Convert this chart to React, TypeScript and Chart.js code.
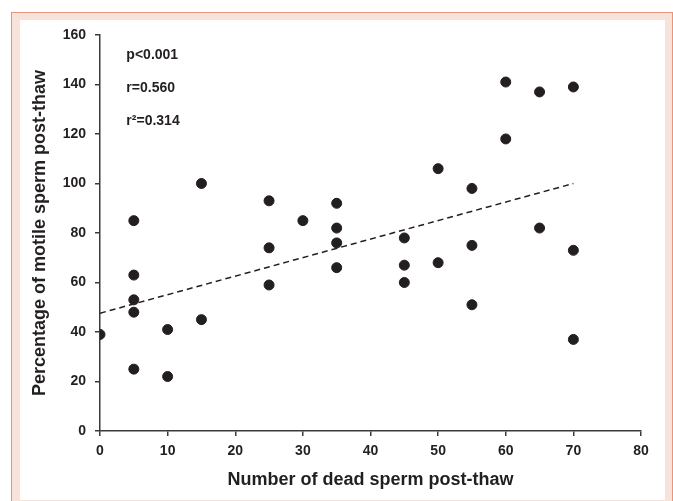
import React, { useEffect, useRef } from "react";
import { Chart, registerables } from "chart.js";

Chart.register(...registerables);

const deadSperm = [0, 5, 5, 5, 5, 5, 10, 10, 15, 15, 25, 25, 25, 30, 35, 35, 35, 35, 45, 45, 45, 50, 50, 55, 55, 55, 60, 60, 65, 65, 70, 70, 70];
const motileSperm = [39, 85, 63, 53, 48, 25, 41, 22, 100, 45, 93, 74, 59, 85, 92, 82, 76, 66, 78, 67, 60, 106, 68, 98, 75, 51, 141, 118, 137, 82, 139, 73, 37];
const trendX = [0, 70];
const trendY = [47.6, 100];
const statsLabels = ["p<0.001", "r=0.560", "r\u00B2=0.314"];
const statsY = [152, 138.6, 125.2];
const xTitle = "Number of dead sperm post-thaw";
const yTitle = "Percentage of motile sperm post-thaw";

const FONT = "'Liberation Sans', Arial, Helvetica, sans-serif";
const INK = "#231F20";
const AXIS = "#3a3a3a";

export default function App() {
  const ref = useRef<HTMLCanvasElement | null>(null);

  useEffect(() => {
    if (!ref.current) return;
    const statsPlugin = {
      id: "stats",
      afterDraw(chart: any) {
        const ctx = chart.ctx;
        const xs = chart.scales.x;
        const ys = chart.scales.y;
        ctx.save();
        ctx.fillStyle = INK;
        ctx.font = `bold 14px ${FONT}`;
        ctx.textAlign = "left";
        ctx.textBaseline = "middle";
        statsLabels.forEach((t, i) => {
          ctx.fillText(t, xs.getPixelForValue(3.9), ys.getPixelForValue(statsY[i]));
        });
        ctx.restore();
      },
    };

    const chart = new Chart(ref.current, {
      type: "scatter",
      data: {
        datasets: [
          {
            type: "line",
            data: trendX.map((x, i) => ({ x, y: trendY[i] })),
            borderColor: INK,
            borderWidth: 1.5,
            borderDash: [6, 4],
            pointRadius: 0,
            fill: false,
          } as any,
          {
            data: deadSperm.map((x, i) => ({ x, y: motileSperm[i] })),
            backgroundColor: INK,
            borderColor: INK,
            pointRadius: 5,
            pointHoverRadius: 5,
          },
        ],
      },
      options: {
        responsive: false,
        animation: false,
        layout: { padding: { left: 0, top: 35, right: 32, bottom: 0 } },
        plugins: { legend: { display: false }, tooltip: { enabled: false } },
        scales: {
          x: {
            type: "linear",
            min: 0,
            max: 80,
            ticks: { stepSize: 10, color: INK, font: { family: FONT, size: 14, weight: "bold" }, padding: 7 },
            grid: { drawOnChartArea: false, drawTicks: true, tickLength: 5, color: AXIS, lineWidth: 1.5 },
            border: { display: true, color: AXIS, width: 1.5 },
            title: { display: true, text: xTitle, color: INK, font: { family: FONT, size: 18, weight: "bold" }, padding: { top: 0, bottom: 10 } },
            afterFit: (s: any) => { s.height = 70; },
          },
          y: {
            type: "linear",
            min: 0,
            max: 160,
            ticks: { stepSize: 20, color: INK, font: { family: FONT, size: 14, weight: "bold" }, padding: 9 },
            grid: { drawOnChartArea: false, drawTicks: true, tickLength: 5, color: AXIS, lineWidth: 1.5 },
            border: { display: true, color: AXIS, width: 1.5 },
            title: { display: true, text: yTitle, color: INK, font: { family: FONT, size: 18, weight: "bold" }, padding: { top: 29, bottom: 0 } },
            afterFit: (s: any) => { s.width = 100; },
          },
        },
      },
      plugins: [statsPlugin],
    });
    return () => chart.destroy();
  }, []);

  return (
    <div style={{ position: "fixed", left: 0, top: 0, width: 673, height: 501, background: "#fff", overflow: "hidden" }}>
      <div style={{ position: "absolute", left: 11, top: 12, width: 662, height: 495, boxSizing: "border-box", border: "1.5px solid #E8957C", background: "#F7E3DA" }} />
      <div style={{ position: "absolute", left: 20, top: 20, width: 645, height: 480, background: "#fff" }} />
      <canvas ref={ref} width={673} height={501} style={{ position: "absolute", left: 0, top: 0 }} />
    </div>
  );
}
